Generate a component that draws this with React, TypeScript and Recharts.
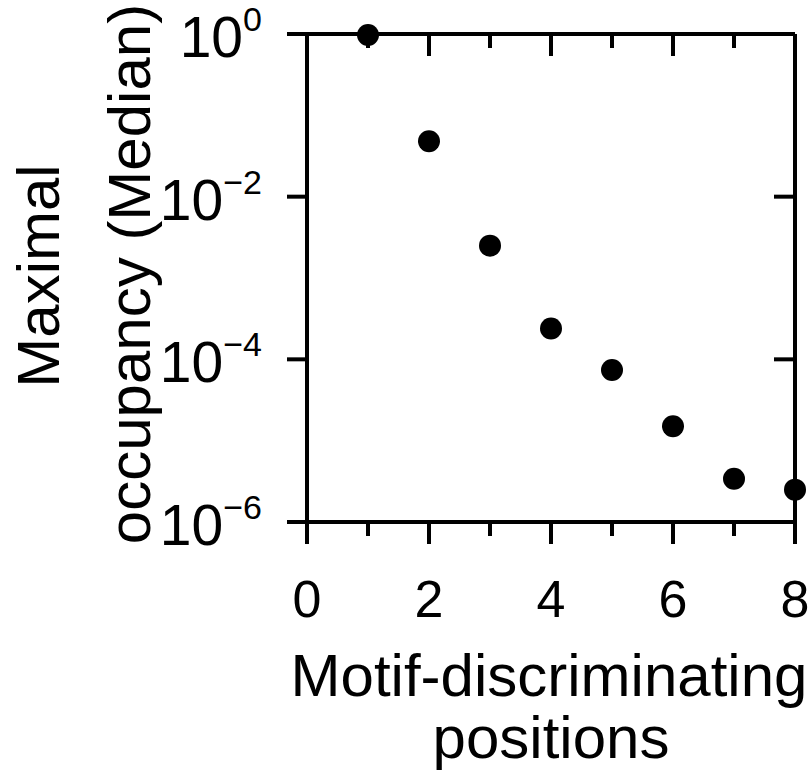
import { ReferenceLine, Scatter, ScatterChart, XAxis, YAxis } from "recharts";

const positions = [1, 2, 3, 4, 5, 6, 7, 8];
const occupancy = [0.97, 0.048, 0.0025, 0.00024, 0.000074, 0.000015, 0.0000034, 0.0000025];
const xTicks = [0, 1, 2, 3, 4, 5, 6, 7, 8];
const xTopTicks = [1, 2, 3, 4, 5, 6, 7];
const yTicks = [1e-6, 1e-4, 1e-2, 1];
const xTitle = ["Motif-discriminating", "positions"];
const yTitle = ["Maximal", "occupancy (Median)"];

const data = positions.map((x, i) => ({ x, y: occupancy[i] }));

const FONT = "'Liberation Sans', Arial, Helvetica, sans-serif";
const SW = 4;
const PLOT_RIGHT = 796;

function BottomTick({ x, y, payload }: any) {
  const v = payload.value;
  const major = v % 2 === 0;
  return (
    <g>
      <line x1={x} x2={x} y1={y} y2={y + (major ? 22 : 14)} stroke="#000" strokeWidth={SW} />
      {major && (
        <text x={x} y={y + 95} textAnchor="middle" fontSize={52} fontFamily={FONT} fill="#000">
          {v}
        </text>
      )}
    </g>
  );
}

function LeftTick({ x, y, payload }: any) {
  const exp = Math.round(Math.log10(payload.value));
  const inner = exp !== 0 && exp !== -6;
  return (
    <g>
      <line x1={x - 20} x2={x} y1={y} y2={y} stroke="#000" strokeWidth={SW} />
      {inner && <line x1={PLOT_RIGHT - 22} x2={PLOT_RIGHT} y1={y} y2={y} stroke="#000" strokeWidth={SW} />}
      <text x={x - 45} y={y + 23} textAnchor="end" fontSize={57} fontFamily={FONT} fill="#000">
        10
        <tspan dy={-26} fontSize={34}>
          {exp === 0 ? "0" : "\u2212" + -exp}
        </tspan>
      </text>
    </g>
  );
}

// short inward tick hanging from the top frame, at the reference line's x
function topTickShape(len: number) {
  return (props: any) => {
    const x = props.x1;
    const top = Math.min(props.y1, props.y2);
    return <path d={`M${x},${top}L${x},${top + len}`} stroke="#000" strokeWidth={SW} fill="none" />;
  };
}

function XTitle() {
  return (
    <g fontFamily={FONT} fontSize={60} fill="#000" textAnchor="middle">
      <text x={549} y={696}>{xTitle[0]}</text>
      <text x={551} y={758}>{xTitle[1]}</text>
    </g>
  );
}

function YTitle() {
  return (
    <g fontFamily={FONT} fontSize={60} fill="#000" textAnchor="middle">
      <text x={59} y={276} transform="rotate(-90 59 276)">{yTitle[0]}</text>
      <text x={150} y={274} transform="rotate(-90 150 274)">{yTitle[1]}</text>
    </g>
  );
}

const Dot = (props: any) => <circle cx={props.cx} cy={props.cy} r={11} fill="#000" />;

export default function App() {
  return (
    <div style={{ position: "absolute", left: 0, top: 0, background: "#fff" }}>
      <ScatterChart width={811} height={778} margin={{ top: 34, right: 15, bottom: 0, left: 0 }}>
        <XAxis
          xAxisId="b"
          dataKey="x"
          type="number"
          domain={[0, 8]}
          ticks={xTicks}
          interval={0}
          height={256}
          tickSize={0}
          tickMargin={0}
          tickLine={false}
          axisLine={{ stroke: "#000", strokeWidth: SW }}
          tick={<BottomTick />}
          label={<XTitle />}
        />
        <YAxis
          yAxisId="l"
          dataKey="y"
          type="number"
          scale="log"
          domain={[1e-6, 1]}
          ticks={yTicks}
          interval={0}
          width={307}
          tickSize={0}
          tickMargin={0}
          tickLine={false}
          axisLine={{ stroke: "#000", strokeWidth: SW }}
          tick={<LeftTick />}
          label={<YTitle />}
        />
        <YAxis
          yAxisId="r"
          orientation="right"
          type="number"
          scale="log"
          domain={[1e-6, 1]}
          width={1}
          tick={false}
          tickLine={false}
          axisLine={{ stroke: "#000", strokeWidth: SW }}
        />
        <ReferenceLine xAxisId="b" yAxisId="l" y={1} stroke="#000" strokeWidth={SW} />
        {xTopTicks.map((t) => (
          <ReferenceLine
            key={t}
            xAxisId="b"
            yAxisId="l"
            x={t}
            stroke="#000"
            strokeWidth={SW}
            shape={topTickShape(t % 2 === 0 ? 22 : 14)}
          />
        ))}
        <Scatter
          xAxisId="b"
          yAxisId="l"
          data={data}
          shape={<Dot />}
          isAnimationActive={false}
        />
      </ScatterChart>
    </div>
  );
}
